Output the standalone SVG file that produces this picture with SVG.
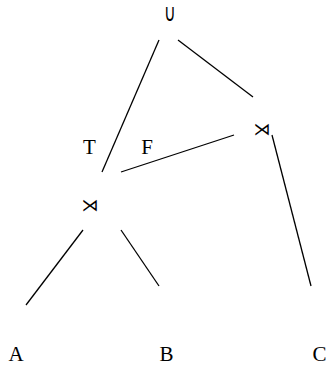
<svg xmlns="http://www.w3.org/2000/svg" width="328" height="365" viewBox="0 0 328 365">
<style>
.lbl{font-family:"Liberation Serif",serif;font-size:21px;fill:#000;text-anchor:middle}
.op{font-family:"DejaVu Sans",sans-serif;font-size:17px;fill:#000;text-anchor:middle}
.un{font-family:"DejaVu Sans",sans-serif;font-size:18px;font-weight:200;fill:#000;text-anchor:middle}
.e{stroke:#000;stroke-width:1.3;fill:none}
</style>
<rect width="328" height="365" fill="#fff"/>
<g id="edges">
<line class="e" x1="159" y1="40" x2="102" y2="172"/>
<line class="e" x1="178" y1="40" x2="253" y2="97"/>
<line class="e" x1="234" y1="135" x2="121" y2="172"/>
<line class="e" x1="272" y1="135" x2="311" y2="286"/>
<line class="e" x1="83" y1="230" x2="26" y2="305"/>
<line class="e" x1="121" y1="230" x2="159" y2="286"/>
</g>
<g id="union"><text class="un" transform="translate(170,21) scale(0.9,1.35)">∪</text></g>
<g id="semijoin-right"><text class="op" x="262" y="135">⋊</text></g>
<g id="semijoin-left"><text class="op" x="90" y="211">⋊</text></g>
<g id="label-T"><text class="lbl" x="89.5" y="154">T</text></g>
<g id="label-F"><text class="lbl" x="147" y="154">F</text></g>
<g id="A"><text class="lbl" x="16" y="361">A</text></g>
<g id="B"><text class="lbl" x="166.5" y="361">B</text></g>
<g id="C"><text class="lbl" x="319.5" y="361">C</text></g>
</svg>
